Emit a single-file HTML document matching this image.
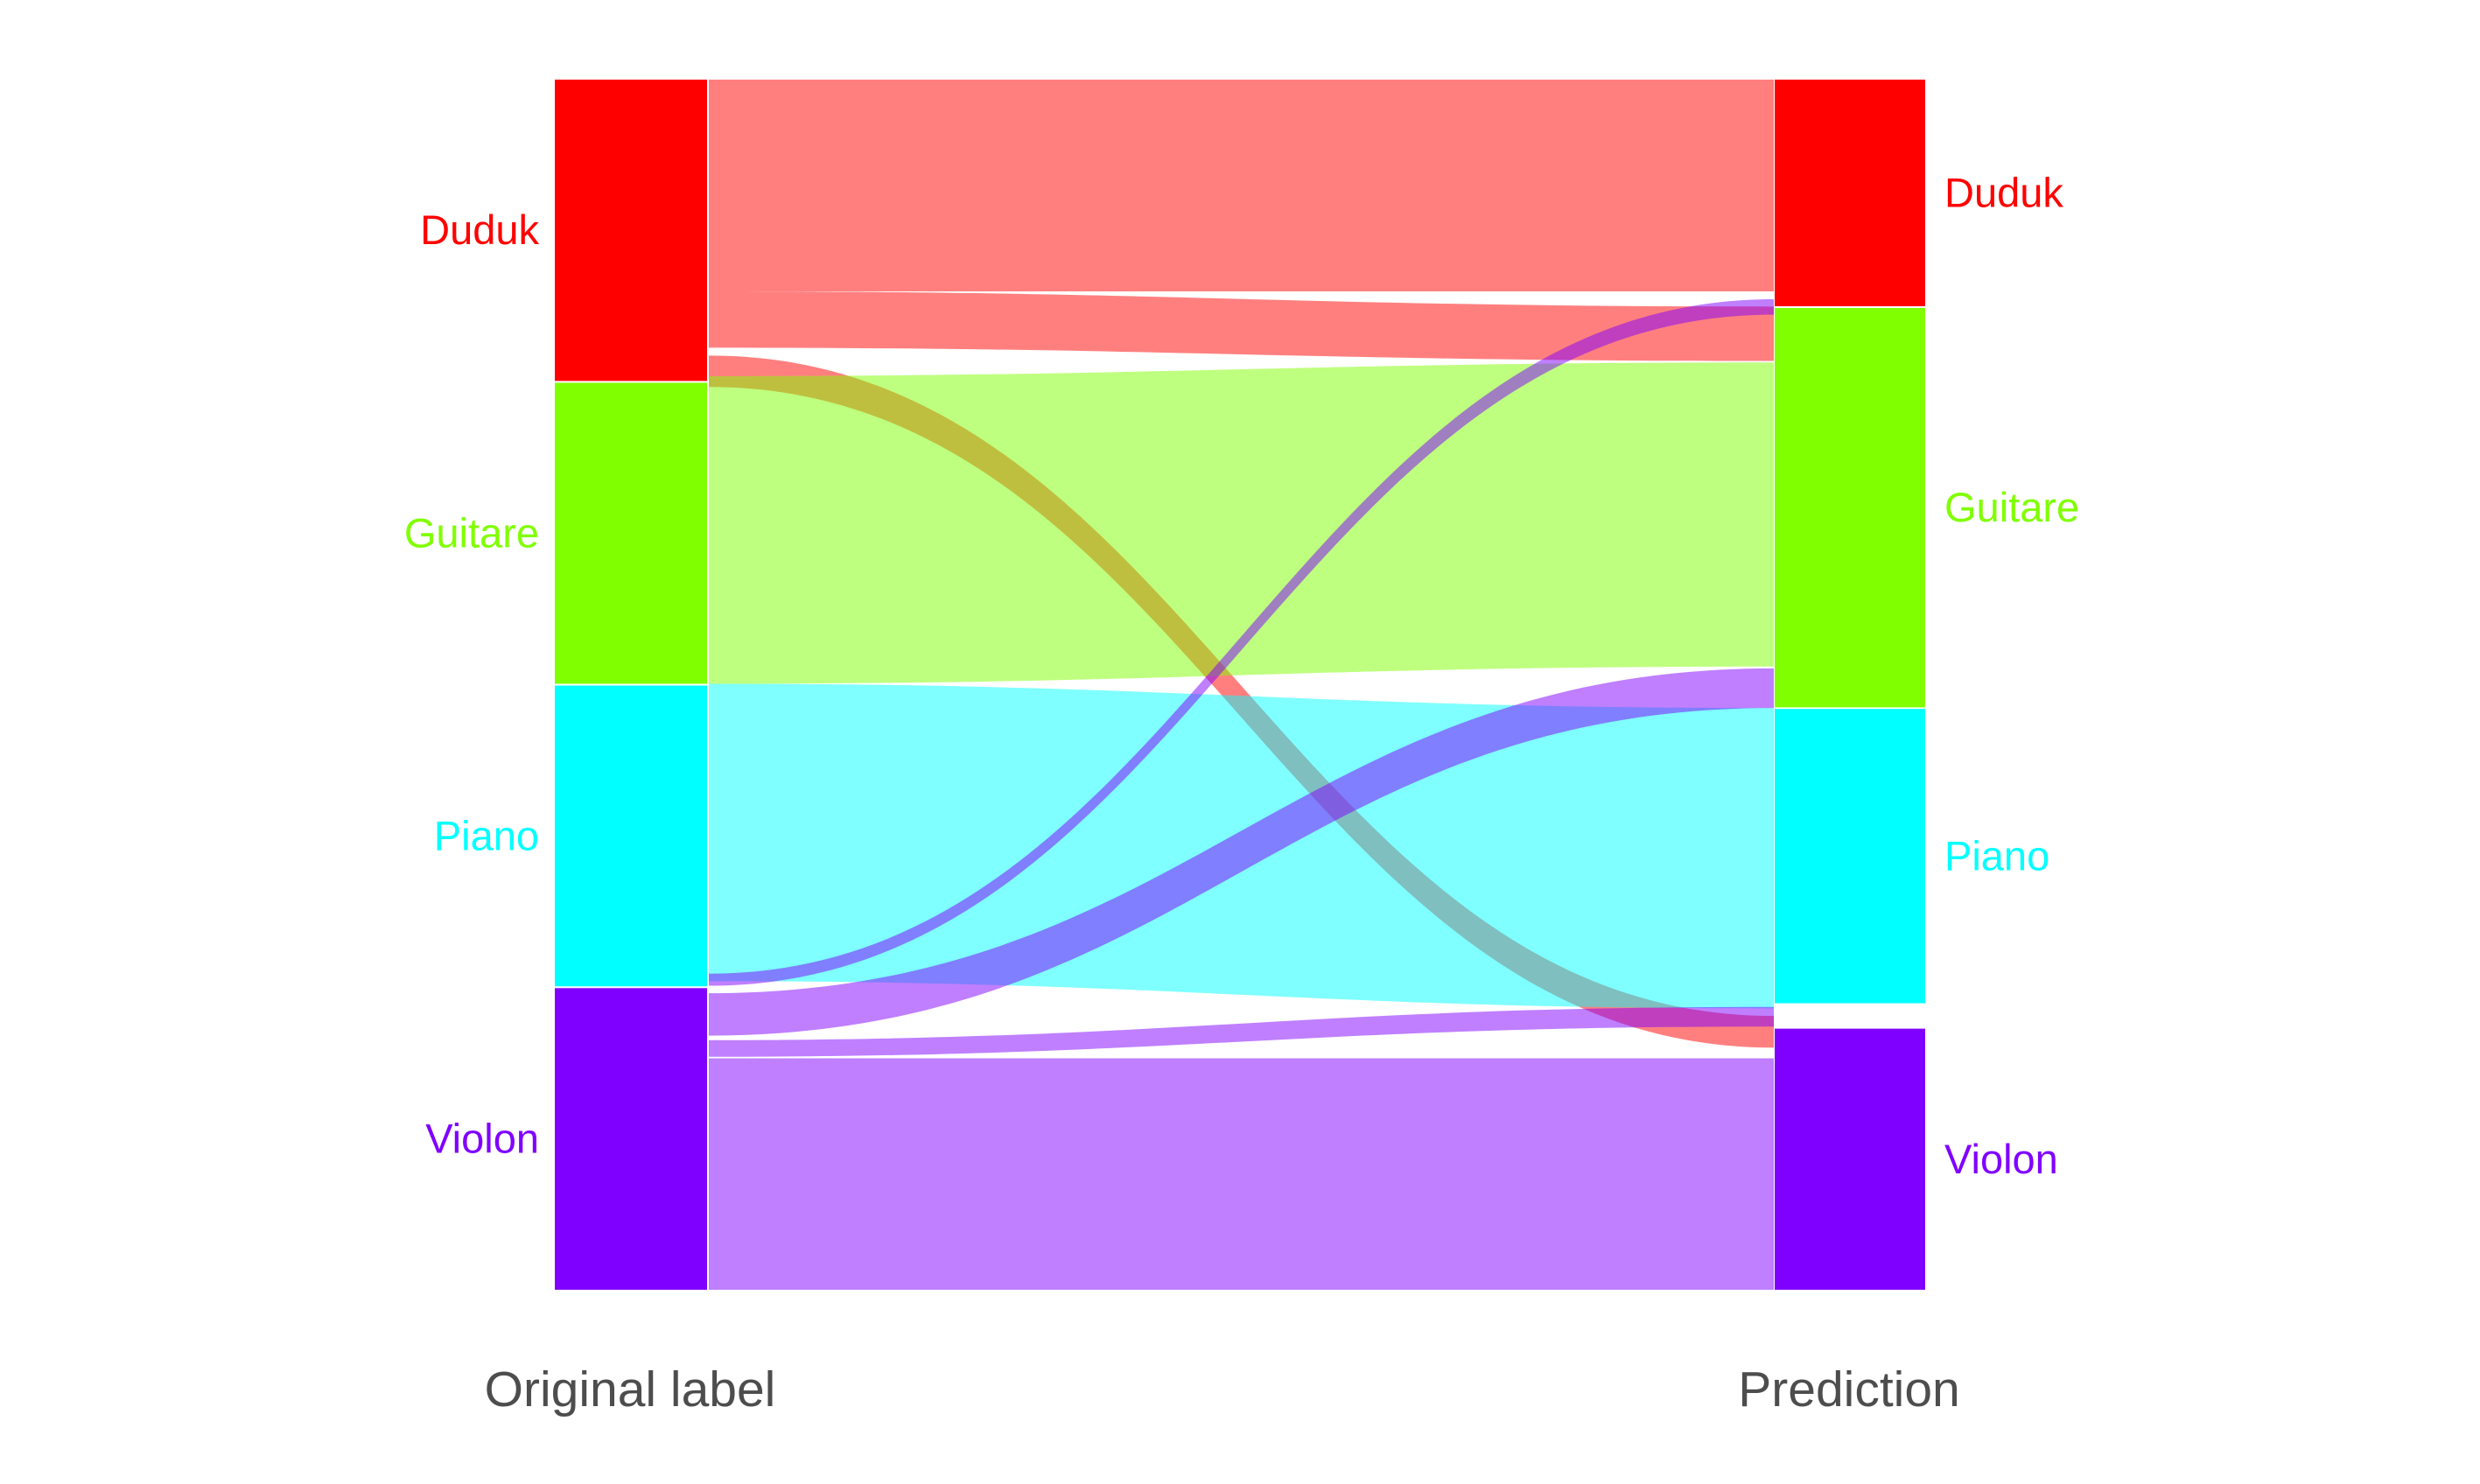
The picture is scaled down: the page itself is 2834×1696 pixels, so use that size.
<!DOCTYPE html>
<html><head><meta charset="utf-8"><style>
html,body{margin:0;padding:0;background:#fff;}
svg{display:block;font-family:"Liberation Sans",sans-serif;}
</style></head><body>
<svg id="chart" width="2834" height="1696" viewBox="0 0 2834 1696"></svg>
<script>
const categories = ["Duduk","Guitare","Piano","Violon"];
const colors = ["#ff0000","#80ff00","#00ffff","#8000ff"];
const leftNodeStart = [0,100.2,200.3,300.3];
const leftNodeEnd = [99.6,199.7,299.7,400];
const rightNodeStart = [0,75.5,208,313.7];
const rightNodeEnd = [74.9,207.5,305.3,400];
const flowSource = [0,0,0,1,2,3,3,3,3];
const flowTarget = [0,1,3,1,2,0,2,3,3];
const flowSrcY0 = [0,70,91.2,98,199.7,295.5,302,317.5,323.5];
const flowSrcY1 = [70,88.6,101.6,199.7,298,299.5,316,323,400];
const flowTgtY0 = [0,75,309.5,93.5,207.7,72.6,194.6,306.5,323.5];
const flowTgtY1 = [70,93,320,194,307,77.7,207.7,313,400];
const axisTitles = ["Original label","Prediction"];

const NS="http://www.w3.org/2000/svg";
const svg=document.getElementById('chart');
const y=v=>91+v*(1383/400);
const LX0=634,LX1=808,RX0=2028,RX1=2200,FX0=810,FX1=2027;
function mk(t,a){const e=document.createElementNS(NS,t);for(const k in a)e.setAttribute(k,a[k]);svg.appendChild(e);return e;}
function rgba(hex,a){const n=parseInt(hex.slice(1),16);return `rgba(${n>>16},${(n>>8)&255},${n&255},${a})`;}
const c1=FX0+(FX1-FX0)*0.45, c2=FX0+(FX1-FX0)*0.55;
for(let i=0;i<flowSource.length;i++){
  const a0=y(flowSrcY0[i]),a1=y(flowSrcY1[i]),b0=y(flowTgtY0[i]),b1=y(flowTgtY1[i]);
  const d=`M${FX0},${a0} C${c1},${a0} ${c2},${b0} ${FX1},${b0} L${FX1},${b1} C${c2},${b1} ${c1},${a1} ${FX0},${a1} Z`;
  const p=mk('path',{d:d,fill:rgba(colors[flowSource[i]],0.5)});
  
  
}
for(let i=0;i<categories.length;i++){
  const r=mk('rect',{x:LX0,y:y(leftNodeStart[i]),width:LX1-LX0,height:y(leftNodeEnd[i])-y(leftNodeStart[i]),fill:colors[i]});
  
  
  const r2=mk('rect',{x:RX0,y:y(rightNodeStart[i]),width:RX1-RX0,height:y(rightNodeEnd[i])-y(rightNodeStart[i]),fill:colors[i]});
  
  
  const t=mk('text',{x:616,y:(y(leftNodeStart[i])+y(leftNodeEnd[i]))/2+16,'text-anchor':'end','font-size':47,fill:colors[i]});
  t.textContent=categories[i];
  
  
  const t2=mk('text',{x:2222,y:(y(rightNodeStart[i])+y(rightNodeEnd[i]))/2+16,'text-anchor':'start','font-size':47,fill:colors[i]});
  t2.textContent=categories[i];
  
  
}
const ax=[720,2113];
for(let i=0;i<2;i++){
  const t=mk('text',{x:ax[i],y:1607,'text-anchor':'middle','font-size':57,fill:'#4d4d4d'});
  t.textContent=axisTitles[i];
  
  
}
</script>
</body></html>
